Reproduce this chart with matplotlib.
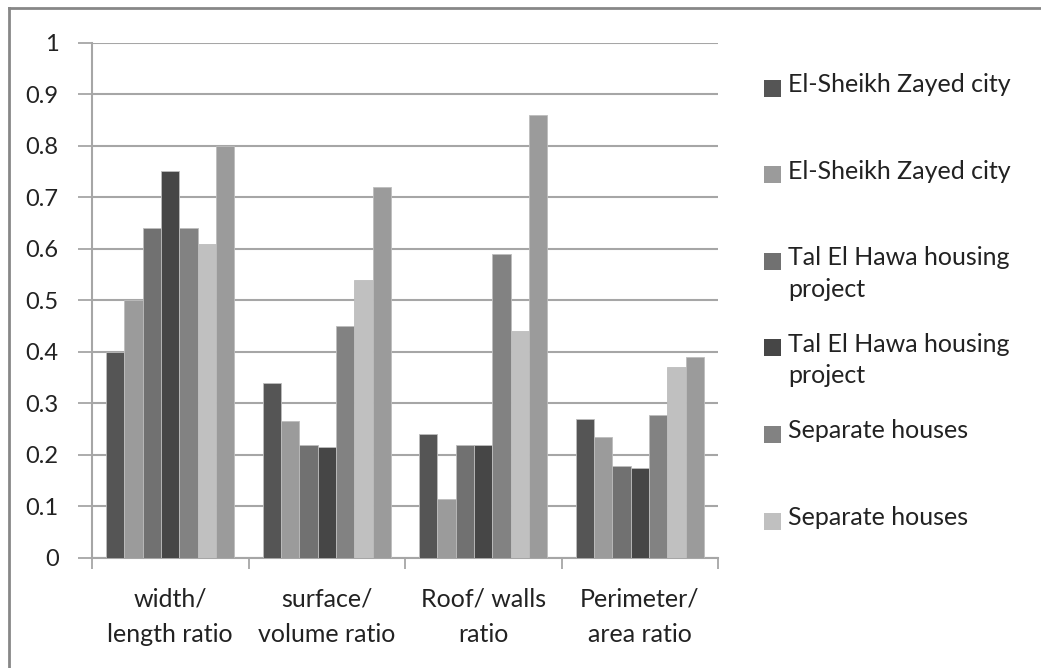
import numpy as np
import matplotlib.pyplot as plt
from matplotlib.patches import Rectangle
from matplotlib.lines import Line2D

plt.rcParams['font.family'] = ['Lato', 'DejaVu Sans']

categories = ['width/\nlength ratio', 'surface/\nvolume ratio', 'Roof/ walls\nratio', 'Perimeter/\narea ratio']
labels = ['El-Sheikh Zayed city', 'El-Sheikh Zayed city',
          'Tal El Hawa housing\nproject', 'Tal El Hawa housing\nproject',
          'Separate houses', 'Separate houses']
s1 = [0.40, 0.34, 0.24, 0.27]
s2 = [0.50, 0.265, 0.115, 0.235]
s3 = [0.64, 0.22, 0.22, 0.178]
s4 = [0.75, 0.215, 0.22, 0.175]
s5 = [0.64, 0.45, 0.59, 0.278]
s6 = [0.61, 0.54, 0.44, 0.37]
s7 = [0.80, 0.72, 0.86, 0.39]   # seventh series, no legend entry
series = [s1, s2, s3, s4, s5, s6, s7]
colors = ['#555555', '#9b9b9b', '#717171', '#464646', '#828282', '#c0c0c0', '#9b9b9b']

W, H = 1041, 668
fig = plt.figure(figsize=(W / 100, H / 100), dpi=100)
ax = fig.add_axes([92 / W, 1 - 558 / H, (718 - 92) / W, (558 - 42.5) / H])

x = np.arange(len(categories))
bw = 0.117
for i, (vals, c) in enumerate(zip(series, colors)):
    ax.bar(x + (i - 3) * bw, vals, bw, color=c, edgecolor='#bdbdbd', linewidth=0.6, zorder=3)

ax.set_xlim(-0.5, 3.5)
ax.set_ylim(0, 1)
ax.set_yticks(np.arange(0, 1.01, 0.1))
ax.set_yticklabels(['0', '0.1', '0.2', '0.3', '0.4', '0.5', '0.6', '0.7', '0.8', '0.9', '1'])
ax.yaxis.grid(True, color='#a6a6a6', linewidth=1.5, zorder=0)
ax.set_xticks(np.arange(-0.5, 3.6, 1))
ax.set_xticklabels([])
ax.set_xticks(x, minor=True)
ax.set_xticklabels(categories, minor=True, fontsize=18, color='#222222', linespacing=1.65)
ax.tick_params(axis='x', which='minor', length=0, pad=21)
ax.tick_params(axis='x', which='major', length=8, width=1.3, color='#a6a6a6')
ax.tick_params(axis='y', length=10, width=1.3, color='#a6a6a6', labelsize=17, labelcolor='#222222', pad=14)
for side in ['top', 'right']:
    ax.spines[side].set_visible(False)
for side in ['left', 'bottom']:
    ax.spines[side].set_color('#a6a6a6')
    ax.spines[side].set_linewidth(1.5)

# legend drawn by hand, evenly spaced entries
for i, (lab, c) in enumerate(zip(labels, colors)):
    yc = 88 + i * 86.6
    fig.add_artist(Rectangle((764 / W, 1 - (yc + 8.5) / H), 17 / W, 17 / H,
                             transform=fig.transFigure, facecolor=c, edgecolor='none'))
    fig.text(788 / W, 1 - (yc - 15) / H, lab, fontsize=18, color='#222222',
             va='top', ha='left', linespacing=1.45)

# outer frame (top and left)
fig.add_artist(Line2D([9 / W, 1], [1 - 8 / H, 1 - 8 / H], transform=fig.transFigure, color='#878787', linewidth=2))
fig.add_artist(Line2D([9 / W, 9 / W], [0, 1 - 8 / H], transform=fig.transFigure, color='#878787', linewidth=2))

fig.savefig('out.png', dpi=100)
